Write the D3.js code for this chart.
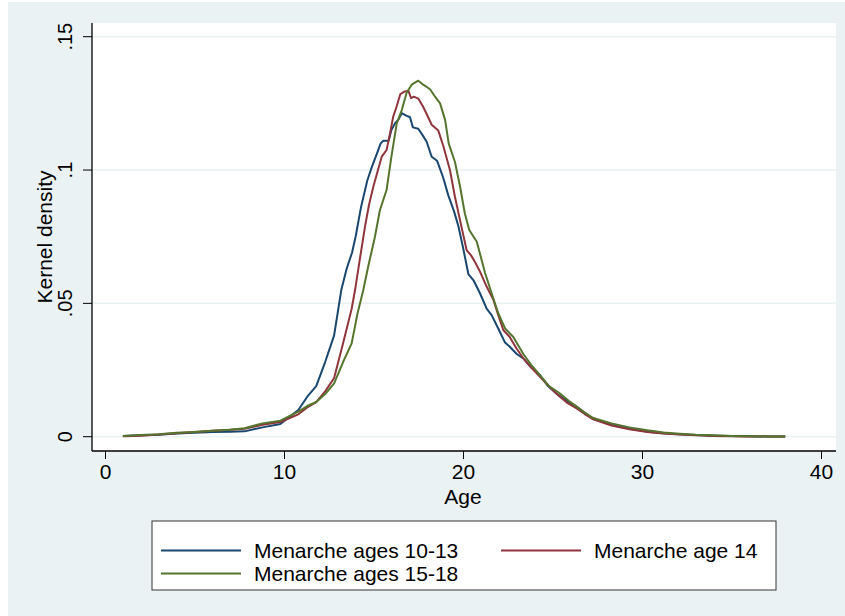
<!DOCTYPE html>
<html><head><meta charset="utf-8">
<script src="https://cdn.jsdelivr.net/npm/d3@7"></script>
<style>body{margin:0;background:#fff}svg{display:block}text{font-family:"Liberation Sans",Arial,sans-serif;fill:#000}</style>
</head><body>
<script>
// ---- data ----
const seriesNames = ["Menarche ages 10-13", "Menarche age 14", "Menarche ages 15-18"];
const seriesColors = ["#1a476f", "#90353b", "#55752f"];
const xTicks = [0, 10, 20, 30, 40];
const yTicks = [0, 0.05, 0.1, 0.15];
const yTickLabels = ["0", ".05", ".1", ".15"];
const xTitle = "Age";
const yTitle = "Kernel density";

const blueAges = [1,2,3,4,5,6,7,7.8,8.8,9.8,10.8,11.3,11.8,12.3,12.8,13.2,13.5,13.8,14.0,14.3,14.65,14.9,15.18,15.4,15.55,15.85,16.0,16.2,16.4,16.58,16.8,17.04,17.2,17.5,17.75,17.97,18.25,18.55,18.9,19.18,19.5,19.74,20.0,20.3,20.6,20.95,21.32,21.6,21.97,22.35,22.6,23.0,23.37,23.8,24.3,24.75,25.2,25.8,26.35,26.8,27.28,28.3,29.3,30.26,31.2,32.1,33,34,35,36,37,38];
const blueDens = [0.0003,0.0005,0.0007,0.0012,0.0015,0.0018,0.0019,0.002,0.0035,0.0048,0.010,0.015,0.019,0.028,0.038,0.055,0.063,0.069,0.075,0.086,0.096,0.101,0.106,0.110,0.111,0.111,0.115,0.1175,0.119,0.1213,0.1205,0.1198,0.116,0.1155,0.113,0.1106,0.105,0.1035,0.097,0.0905,0.0845,0.079,0.071,0.061,0.0585,0.0538,0.048,0.0456,0.0406,0.0353,0.0338,0.031,0.0294,0.026,0.0231,0.019,0.0163,0.0135,0.0113,0.009,0.0066,0.0044,0.003,0.0019,0.0013,0.0009,0.0006,0.0004,0.0003,0.0002,0.0001,0.0001];

const redAges = [1,2,3,4,5,6,7,7.8,8.8,9.8,10.8,11.3,11.8,12.3,12.8,13.3,13.78,13.97,14.2,14.53,14.75,15.0,15.25,15.46,15.73,15.9,16.1,16.3,16.5,16.75,16.95,17.1,17.25,17.5,17.75,17.97,18.25,18.62,18.9,19.27,19.55,19.83,20.2,20.45,20.67,20.95,21.32,21.7,21.97,22.25,22.6,23.0,23.37,23.8,24.3,24.8,25.3,25.8,26.35,26.8,27.28,28.3,29.3,30.3,31.2,32.1,33,34,35,36,37,38];
const redDens = [0.0002,0.0004,0.0008,0.0013,0.0018,0.0022,0.0026,0.003,0.0045,0.0055,0.0084,0.011,0.013,0.017,0.022,0.035,0.048,0.055,0.065,0.079,0.087,0.094,0.100,0.105,0.1075,0.113,0.120,0.124,0.1285,0.1295,0.1297,0.127,0.1275,0.1268,0.124,0.121,0.117,0.1148,0.109,0.100,0.090,0.0813,0.070,0.068,0.0655,0.0619,0.0563,0.0513,0.0456,0.040,0.0375,0.033,0.0294,0.026,0.0225,0.019,0.0156,0.0128,0.0106,0.0085,0.0065,0.0042,0.0028,0.0018,0.0012,0.0008,0.0005,0.0003,0.0002,0.0001,0.0001,0.0001];

const greenAges = [1,2,3,4,5,6,7,7.8,8.8,9.8,10.8,11.3,11.8,12.3,12.8,13.3,13.78,14.1,14.43,14.71,15.08,15.36,15.73,16.0,16.3,16.58,16.85,17.13,17.5,17.78,18.16,18.44,18.72,19.0,19.2,19.55,19.83,20.1,20.35,20.77,21.23,21.6,21.97,22.35,22.8,23.37,23.8,24.3,24.8,25.4,25.9,26.35,26.8,27.28,28.3,29.3,30.3,31.2,32.1,33,34,35,36,37,38];
const greenDens = [0.0003,0.0006,0.0009,0.0015,0.0018,0.0022,0.0026,0.0032,0.005,0.006,0.0094,0.0115,0.013,0.016,0.020,0.028,0.035,0.046,0.055,0.064,0.075,0.085,0.0925,0.105,0.1175,0.1225,0.129,0.132,0.1335,0.132,0.1303,0.1275,0.125,0.1188,0.110,0.103,0.094,0.0838,0.0775,0.0731,0.0615,0.0538,0.0463,0.0406,0.0375,0.031,0.027,0.0231,0.019,0.0163,0.0135,0.0113,0.009,0.007,0.005,0.0035,0.0024,0.0016,0.0011,0.0007,0.0005,0.0003,0.0002,0.0001,0.0001,0.0001];

const seriesAges = [blueAges, redAges, greenAges];
const seriesDens = [blueDens, redDens, greenDens];

// ---- layout ----
const W = 845, H = 616;
const plot = {left: 92, right: 836, top: 23, bottom: 451};
const x = d3.scaleLinear().domain([0, 40]).range([105, 821]);
const y = d3.scaleLinear().domain([0, 0.15]).range([436.7, 36.7]);

const svg = d3.select("body").append("svg").attr("width", W).attr("height", H);
svg.append("rect").attr("x", 0).attr("y", 0).attr("width", W).attr("height", H).attr("fill", "#fff");
svg.append("rect").attr("x", 8).attr("y", 2).attr("width", W - 8).attr("height", H - 2).attr("fill", "#eaf2f3");
svg.append("rect").attr("x", plot.left).attr("y", plot.top)
  .attr("width", plot.right - plot.left).attr("height", plot.bottom - plot.top).attr("fill", "#fff");

// gridlines
svg.append("g").selectAll("line").data(yTicks).join("line")
  .attr("x1", plot.left).attr("x2", plot.right)
  .attr("y1", d => y(d)).attr("y2", d => y(d))
  .attr("stroke", "#eaf2f3").attr("stroke-width", 1.5);

// axes
const yAxis = d3.axisLeft(y).tickValues(yTicks).tickFormat((d, i) => yTickLabels[i]).tickSize(9).tickPadding(4);
const gy = svg.append("g").attr("transform", `translate(${plot.left},0)`).call(yAxis);
gy.select(".domain").attr("d", `M0,${plot.top}V${plot.bottom}`);
gy.selectAll(".tick line").attr("stroke", "#000");
gy.selectAll(".tick text").attr("font-size", 20).attr("font-family", "Liberation Sans, Arial, sans-serif")
  .attr("text-anchor", "middle").attr("dy", 0)
  .attr("transform", function(d){ return `rotate(-90) `; })
  .attr("x", d => -y(d) - 0).attr("y", -20);

gy.selectAll(".tick").attr("transform", null);
gy.selectAll(".tick line").attr("y1", d => y(d)).attr("y2", d => y(d)).attr("x2", -9);

const xAxis = d3.axisBottom(x).tickValues(xTicks).tickSize(8).tickPadding(5);
const gx = svg.append("g").attr("transform", `translate(0,${plot.bottom})`).call(xAxis);
gx.select(".domain").attr("d", `M${plot.left},0H${plot.right}`);
gx.selectAll(".tick line").attr("stroke", "#000");
gx.selectAll(".tick text").attr("font-size", 21).attr("font-family", "Liberation Sans, Arial, sans-serif");
svg.selectAll(".domain").attr("stroke", "#000").attr("stroke-width", 1.3);

// axis titles
svg.append("text").attr("x", 463).attr("y", 504).attr("text-anchor", "middle")
  .attr("font-size", 21).text(xTitle);
svg.append("text").attr("transform", "translate(52,237) rotate(-90)").attr("text-anchor", "middle")
  .attr("font-size", 21).text(yTitle);

// lines
const line = d3.line().x(d => x(d[0])).y(d => y(d[1]));
seriesAges.forEach((ages, i) => {
  const pts = ages.map((a, j) => [a, seriesDens[i][j]]);
  svg.append("path").datum(pts).attr("d", line).attr("fill", "none")
    .attr("stroke", seriesColors[i]).attr("stroke-width", 2).attr("stroke-linejoin", "round");
});

// legend
const lg = svg.append("g");
lg.append("rect").attr("x", 152).attr("y", 521).attr("width", 624).attr("height", 69)
  .attr("fill", "#fff").attr("stroke", "#333").attr("stroke-width", 1);
const legendPos = [[161, 550.5], [501, 550.5], [161, 573.5]];
seriesNames.forEach((name, i) => {
  const [lx, ly] = legendPos[i];
  lg.append("line").attr("x1", lx).attr("x2", lx + 80).attr("y1", ly).attr("y2", ly)
    .attr("stroke", seriesColors[i]).attr("stroke-width", 2);
  lg.append("text").attr("x", lx + 93).attr("y", ly).attr("dy", "0.36em")
    .attr("font-size", 21).text(name);
});
</script>
</body></html>
